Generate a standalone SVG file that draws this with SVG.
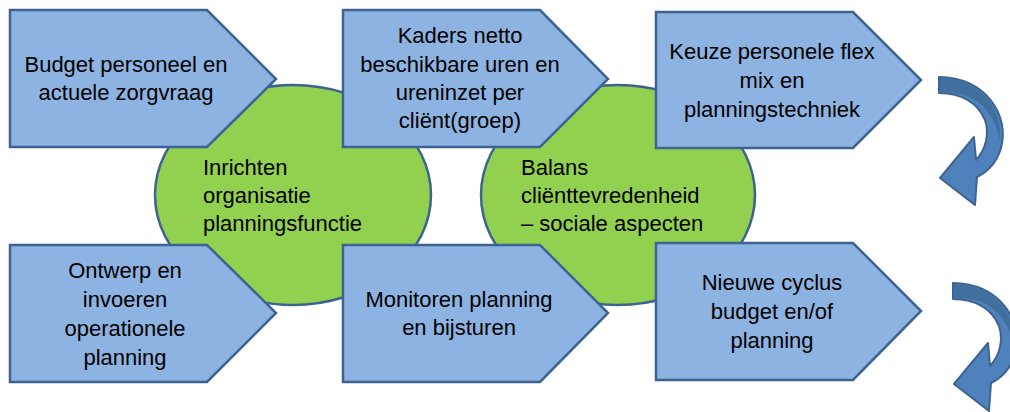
<svg xmlns="http://www.w3.org/2000/svg" width="1010" height="412" viewBox="0 0 1010 412">
<defs>
<style>
.pent{fill:#8DB3E2;stroke:#3D6491;stroke-width:2.5;stroke-linejoin:miter}
.ell{fill:#92D050;stroke:#3D6491;stroke-width:2.5}
.t{font-family:"Liberation Sans",Arial,sans-serif;font-size:22px;fill:#000}
.c{text-anchor:middle}
.arr{fill:#4F81BD;stroke:#3D6491;stroke-width:2;stroke-linejoin:round}
.arrb{fill:#41709F;stroke:none}
</style>
<g id="curvedArrow">
<path class="arr" d="M 939,77 C 985,77 1010,115 1001,148 C 997,162 989,171 977,177 L 975,205 L 940,178 L 974,137 L 976,160 C 985,150 990,135 985,120 C 978,103 962,93 939,93 Z"/>
<path class="arrb" d="M 940,78.5 C 980,78.5 1003,108 1000,140 C 996,120 985,102 965,95 C 958,93 950,92 940,91.5 Z"/>
</g>
</defs>
<rect width="1010" height="412" fill="#fff"/>
<g id="ellipse-inrichten">
<ellipse class="ell" cx="293" cy="195" rx="138" ry="110"/>
<text class="t"><tspan x="203" y="175">Inrichten</tspan><tspan x="203" y="203">organisatie</tspan><tspan x="203" y="231">planningsfunctie</tspan></text>
</g>
<g id="ellipse-balans">
<ellipse class="ell" cx="618" cy="195" rx="137" ry="110"/>
<text class="t"><tspan x="521" y="175">Balans</tspan><tspan x="521" y="203">cliënttevredenheid</tspan><tspan x="521" y="231">– sociale aspecten</tspan></text>
</g>
<g id="node-budget">
<polygon class="pent" points="10,10 207,10 276,79 207,147 10,147"/>
<text class="t c"><tspan x="126" y="72">Budget personeel en</tspan><tspan x="126" y="100">actuele zorgvraag</tspan></text>
</g>
<g id="node-kaders">
<polygon class="pent" points="343,10 540,10 608,79 540,147 343,147"/>
<text class="t c"><tspan x="460" y="43">Kaders netto</tspan><tspan x="460" y="72">beschikbare uren en</tspan><tspan x="460" y="100">ureninzet per</tspan><tspan x="460" y="128">cliënt(groep)</tspan></text>
</g>
<g id="node-keuze">
<polygon class="pent" points="656,12 853,12 921,80 853,148 656,148"/>
<text class="t c"><tspan x="772" y="59">Keuze personele flex</tspan><tspan x="772" y="88">mix en</tspan><tspan x="772" y="117">planningstechniek</tspan></text>
</g>
<g id="node-ontwerp">
<polygon class="pent" points="10,245 207,245 276,313 207,382 10,382"/>
<text class="t c"><tspan x="125" y="278">Ontwerp en</tspan><tspan x="125" y="307">invoeren</tspan><tspan x="125" y="336">operationele</tspan><tspan x="125" y="365">planning</tspan></text>
</g>
<g id="node-monitoren">
<polygon class="pent" points="343,245 540,245 608,313 540,382 343,382"/>
<text class="t c"><tspan x="459" y="307">Monitoren planning</tspan><tspan x="459" y="335">en bijsturen</tspan></text>
</g>
<g id="node-nieuwe">
<polygon class="pent" points="656,243 853,243 921,311 853,380 656,380"/>
<text class="t c"><tspan x="772" y="290">Nieuwe cyclus</tspan><tspan x="772" y="319">budget en/of</tspan><tspan x="772" y="348">planning</tspan></text>
</g>
<g id="connectors">
<use href="#curvedArrow"/>
<use href="#curvedArrow" transform="translate(14,206)"/>
</g>
</svg>
